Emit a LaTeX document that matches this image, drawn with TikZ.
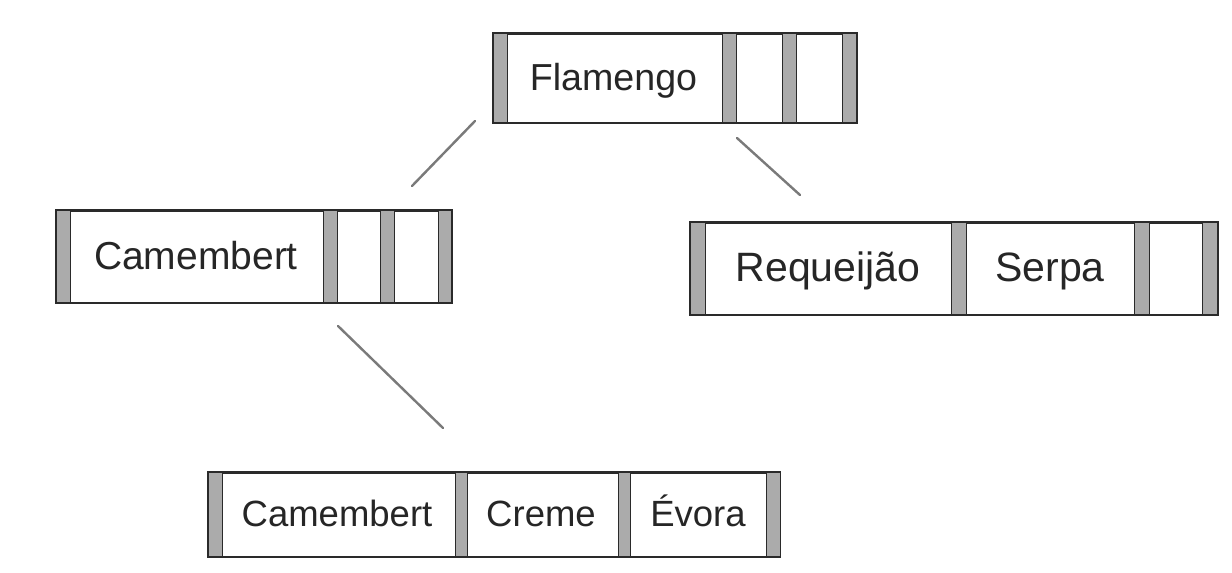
\documentclass[tikz,border=0pt]{standalone}
\usepackage{fontspec}
\setmainfont{Liberation Sans}
\definecolor{bargray}{HTML}{ABABAB}
\definecolor{edgegray}{HTML}{7A7A7A}
\definecolor{boxline}{HTML}{2A2A2A}
\tikzset{
  x=1pt, y=-1pt,
  outerbox/.style={draw=boxline, line width=1.6pt, fill=white, inner sep=0pt, anchor=north west},
  barbox/.style={draw=boxline, line width=1.2pt, fill=bargray, inner sep=0pt, minimum width=13.5pt, anchor=north west},
  lbl/.style={inner sep=0pt, anchor=base, text=black!85, font=\fontsize{#1}{#1}\selectfont},
  link/.style={draw=edgegray, line width=2.4pt, line cap=round}
}
\begin{document}
\begin{tikzpicture}
\useasboundingbox (0,0) rectangle (1232,573);
\fill[white] (0,0) rectangle (1232,573);

% ---------- Flamengo (root) ----------
\node[outerbox, minimum width=363pt, minimum height=89pt] (root) at (493,33) {};
\node[barbox, minimum height=89pt] (rb1) at (493,33) {};
\node[barbox, minimum height=89pt] (rb2) at (722,33) {};
\node[barbox, minimum height=89pt] (rb3) at (782,33) {};
\node[barbox, minimum height=89pt] (rb4) at (842,33) {};
\draw[boxline, line width=1.6pt] (root.north west) rectangle (root.south east);
\node[lbl=37.6] (rtxt) at (613.5,90) {Flamengo};

% ---------- Camembert (left) ----------
\node[outerbox, minimum width=395pt, minimum height=92pt] (left) at (56,210) {};
\node[barbox, minimum height=92pt] (lb1) at (56,210) {};
\node[barbox, minimum height=92pt] (lb2) at (323,210) {};
\node[barbox, minimum height=92pt] (lb3) at (380,210) {};
\node[barbox, minimum height=92pt] (lb4) at (437.5,210) {};
\draw[boxline, line width=1.6pt] (left.north west) rectangle (left.south east);
\node[lbl=39] (ltxt) at (196,269) {Camembert};

% ---------- Requeijão / Serpa (right) ----------
\node[outerbox, minimum width=527pt, minimum height=92pt] (right) at (690,222) {};
\node[barbox, minimum height=92pt, minimum width=15pt] (qb1) at (690,222) {};
\node[barbox, minimum height=92pt, minimum width=15pt] (qb2) at (951,222) {};
\node[barbox, minimum height=92pt, minimum width=15pt] (qb3) at (1134,222) {};
\node[barbox, minimum height=92pt, minimum width=15pt] (qb4) at (1202,222) {};
\draw[boxline, line width=1.6pt] (right.north west) rectangle (right.south east);
\node[lbl=41] (qtxt1) at (828,281) {Requeijão};
\node[lbl=41] (qtxt2) at (1050,281) {Serpa};

% ---------- Camembert / Creme / Évora (bottom) ----------
\node[outerbox, minimum width=571pt, minimum height=84pt] (bot) at (208,472) {};
\node[barbox, minimum height=84pt] (bb1) at (208,472) {};
\node[barbox, minimum height=84pt, minimum width=12pt] (bb2) at (455,472) {};
\node[barbox, minimum height=84pt, minimum width=12pt] (bb3) at (618,472) {};
\node[barbox, minimum height=84pt] (bb4) at (766,472) {};
\draw[boxline, line width=1.6pt] (bot.north west) rectangle (bot.south east);
\node[lbl=36.5] (btxt1) at (337,526) {Camembert};
\node[lbl=36.5] (btxt2) at (541,526) {Creme};
\node[lbl=36.5] (btxt3) at (698,526) {Évora};

% ---------- connectors ----------
\coordinate (c1a) at (475,121);
\coordinate (c1b) at (412,186);
\coordinate (c2a) at (737,138);
\coordinate (c2b) at (800,195);
\coordinate (c3a) at (338,326);
\coordinate (c3b) at (443,428);
\draw[link] (c1a) -- (c1b);
\draw[link] (c2a) -- (c2b);
\draw[link] (c3a) -- (c3b);
\end{tikzpicture}
\end{document}
